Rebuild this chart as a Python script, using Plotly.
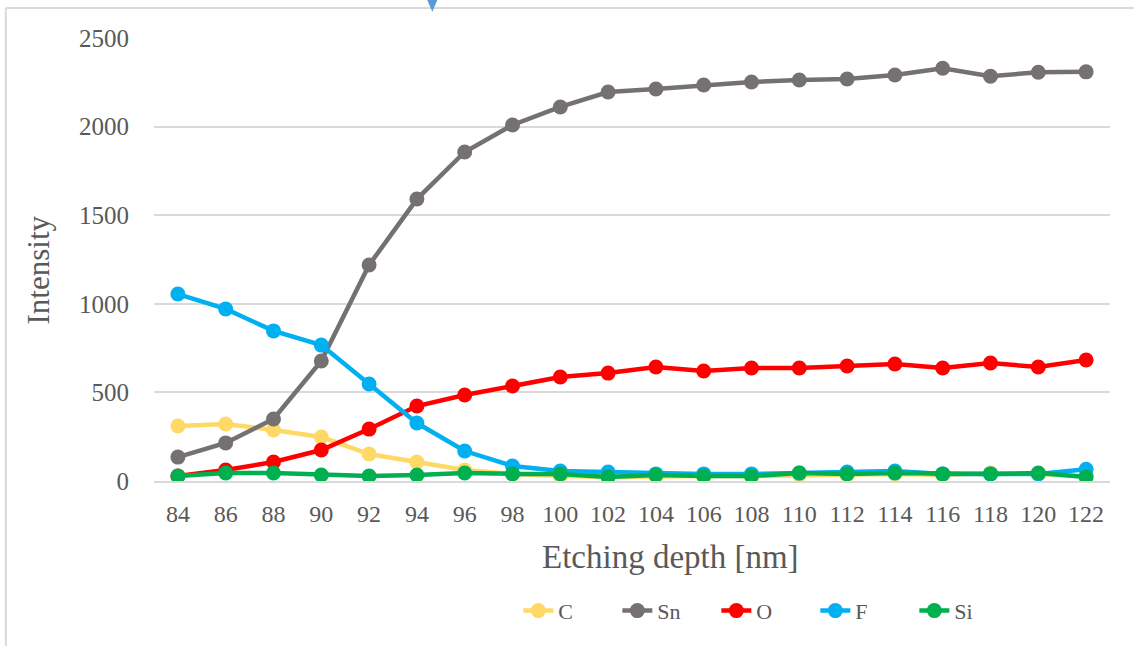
import plotly.graph_objects as go

# Etching depth (nm) categories
depth = [84, 86, 88, 90, 92, 94, 96, 98, 100, 102, 104, 106, 108, 110, 112, 114, 116, 118, 120, 122]

# Element intensities per depth
c_vals = [310, 322, 288, 248, 152, 107, 62, 40, 28, 23, 28, 28, 28, 34, 34, 40, 34, 45, 40, 28]
sn_vals = [135, 215, 350, 677, 1219, 1591, 1857, 2009, 2111, 2195, 2212, 2235, 2252, 2263, 2269,
           2291, 2329, 2284, 2307, 2309]
o_vals = [28, 62, 107, 175, 293, 423, 485, 536, 587, 609, 643, 621, 638, 638, 649, 660, 638, 666, 643, 683]
f_vals = [1055, 971, 847, 767, 547, 327, 169, 85, 56, 51, 40, 40, 40, 45, 51, 56, 40, 40, 40, 66]
si_vals = [28, 45, 45, 34, 28, 34, 45, 40, 40, 23, 34, 28, 28, 45, 40, 45, 40, 40, 45, 23]

series = [
    ("C", c_vals, "#FFD966"),
    ("Sn", sn_vals, "#767171"),
    ("O", o_vals, "#FF0000"),
    ("F", f_vals, "#00B0F0"),
    ("Si", si_vals, "#00B050"),
]

FONT = "Liberation Serif"
TEXT = "#595959"
GRID = "#D9D9D9"

xcat = [str(d) for d in depth]

fig = go.Figure()
for name, vals, color in series:
    fig.add_trace(go.Scatter(
        x=xcat, y=vals, name=name, mode="lines+markers",
        line=dict(color=color, width=4.5),
        marker=dict(color=color, size=15),
    ))

fig.update_layout(
    width=1134, height=646,
    margin=dict(l=154, r=24, t=38, b=165),
    paper_bgcolor="white", plot_bgcolor="white",
    font=dict(family=FONT, color=TEXT, size=24),
    showlegend=True,
    legend=dict(
        orientation="h", x=0.64, xanchor="center", y=-0.293, yanchor="middle",
        font=dict(family=FONT, size=22, color=TEXT),
        entrywidth=54, entrywidthmode="pixels",
    ),
    xaxis=dict(
        type="category", range=[-0.5, len(depth) - 0.5],
        showgrid=False, showline=True, linecolor=GRID, linewidth=1.5,
        ticks="", tickfont=dict(family=FONT, size=24, color=TEXT),
        ticklabelstandoff=10, zeroline=False,
    ),
    yaxis=dict(
        range=[0, 2500], dtick=500, showgrid=True, gridcolor=GRID, gridwidth=1.5,
        zeroline=False, showline=False, ticks="",
        tickfont=dict(family=FONT, size=25, color=TEXT), ticklabelstandoff=24,
    ),
    annotations=[
        dict(text="Intensity", xref="paper", yref="paper", x=-0.121, y=0.476,
             textangle=-90, showarrow=False, xanchor="center", yanchor="middle",
             font=dict(family=FONT, size=31, color=TEXT)),
        dict(text="Etching depth [nm]", xref="paper", yref="paper", x=0.54, y=-0.172,
             showarrow=False, xanchor="center", yanchor="middle",
             font=dict(family=FONT, size=33, color=TEXT)),
    ],
    shapes=[
        # chart frame edges
        dict(type="line", xref="paper", yref="paper", x0=-0.155, x1=1.05, y0=1.0677, y1=1.0677,
             line=dict(color=GRID, width=2)),
        dict(type="line", xref="paper", yref="paper", x0=-0.155, x1=-0.155, y0=1.0677, y1=-0.4,
             line=dict(color=GRID, width=2)),
        # pointer triangle at top edge
        dict(type="path", xref="paper", yref="paper",
             path="M 0.2845 1.0925 L 0.2977 1.0925 L 0.2911 1.059 Z",
             fillcolor="#5B9BD5", line=dict(width=0)),
    ],
)

fig.write_html("out.html")
